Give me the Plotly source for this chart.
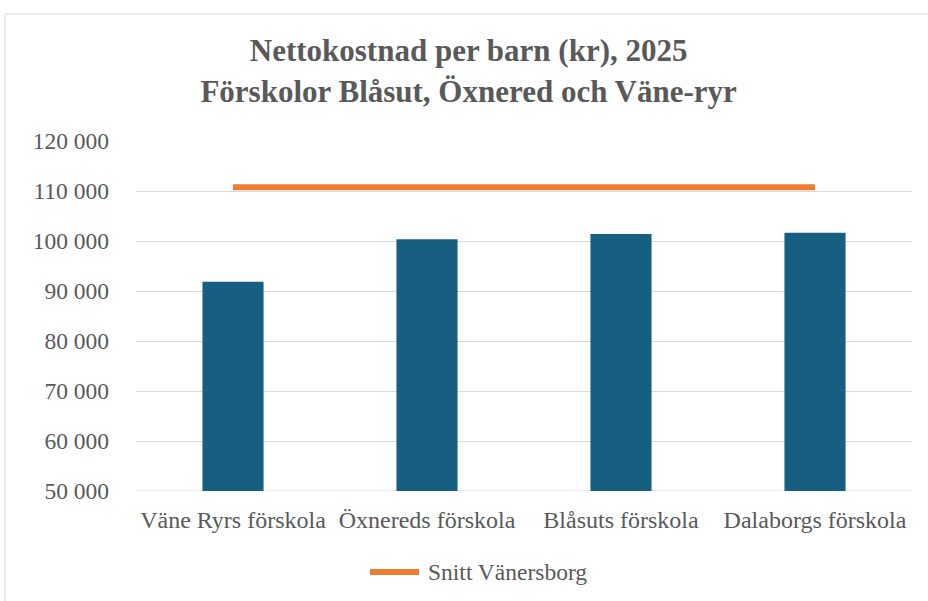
import plotly.graph_objects as go

categories = ["Väne Ryrs förskola", "Öxnereds förskola", "Blåsuts förskola", "Dalaborgs förskola"]
cost_per_child = [91850, 100350, 101400, 101650]
avg_vanersborg = [110750, 110750, 110750, 110750]
avg_name = "Snitt Vänersborg"
tick_values = [50000, 60000, 70000, 80000, 90000, 100000, 110000, 120000]
tick_labels = ["50 000", "60 000", "70 000", "80 000", "90 000", "100 000", "110 000", "120 000"]
title_lines = ["Nettokostnad per barn (kr), 2025", "Förskolor Blåsut, Öxnered och Väne-ryr"]

FONT = "Liberation Serif, Times New Roman, serif"
GREY = "#595959"
ORANGE = "#ED7D31"
W, H = 928, 601
L, R, T, B = 136, 16, 141, 110
PW, PH = W - L - R, H - T - B

fig = go.Figure()
fig.add_trace(go.Bar(x=categories, y=cost_per_child, marker=dict(color="#175f80", line=dict(width=0)),
                     showlegend=False, name="Nettokostnad"))
fig.add_trace(go.Scatter(x=categories, y=avg_vanersborg, mode="lines", name=avg_name,
                         showlegend=False, line=dict(color=ORANGE, width=6)))

fig.update_layout(
    width=W, height=H,
    margin=dict(l=L, r=R, t=T, b=B),
    paper_bgcolor="white", plot_bgcolor="white",
    bargap=0.685,
    font=dict(family=FONT, color=GREY, size=23),
    title=dict(text="<b>" + "<br>".join(title_lines) + "</b>", x=0.505, xanchor="center",
               y=0.898, yanchor="middle", font=dict(family=FONT, size=31, color=GREY)),
    xaxis=dict(showgrid=False, showline=False, ticks="", tickfont=dict(size=24, color=GREY),
               ticklabelstandoff=12),
    yaxis=dict(range=[50000, 120000], tickvals=tick_values, ticktext=tick_labels,
               showgrid=True, gridcolor="#d9d9d9", gridwidth=1, zeroline=False,
               showline=False, ticks="", tickfont=dict(size=23.5, color=GREY),
               ticklabelstandoff=26),
    showlegend=False,
    shapes=[dict(type="rect", xref="paper", yref="paper",
                 x0=(5 - L) / PW, x1=1.2, y0=-1, y1=(H - B - 14) / PH,
                 line=dict(color="#d9d9d9", width=1), fillcolor="rgba(0,0,0,0)", layer="below")],
)
fig.add_shape(type="line", xref="paper", yref="y", x0=0, x1=1, y0=50000, y1=50000,
              line=dict(color="#d9d9d9", width=1), layer="below")
# legend (custom, to match the long line symbol)
leg_y = -(572 - (H - B)) / PH
fig.add_shape(type="line", xref="paper", yref="paper", x0=(370 - L) / PW, x1=(419 - L) / PW,
              y0=leg_y, y1=leg_y, line=dict(color=ORANGE, width=6))
fig.add_annotation(text=avg_name, xref="paper", yref="paper", x=(426 - L) / PW, y=leg_y,
                   xanchor="left", yanchor="middle", showarrow=False,
                   font=dict(family=FONT, size=23.5, color=GREY))

fig.write_html("out.html", config={"displayModeBar": False},
               post_script="document.body.style.margin='0';document.body.style.padding='0';")
